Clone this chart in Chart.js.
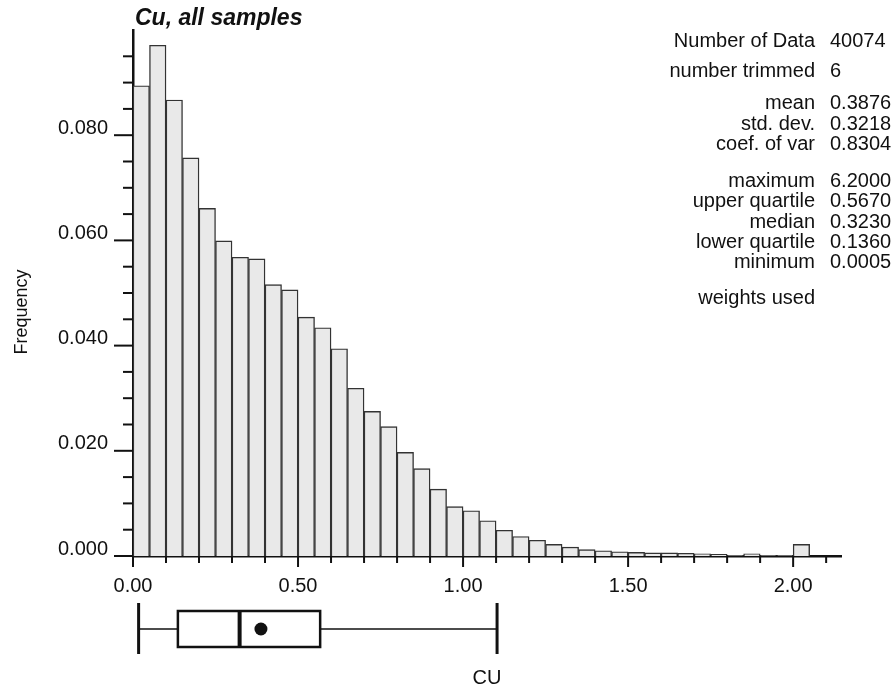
<!DOCTYPE html>
<html>
<head>
<meta charset="utf-8">
<title>Cu, all samples</title>
<script src="https://cdn.jsdelivr.net/npm/chart.js@4.4.1/dist/chart.umd.min.js"></script>
<style>
  html, body { margin: 0; padding: 0; background: #fff; }
  canvas { display: block; }
</style>
</head>
<body>
<canvas id="histo" width="896" height="692"></canvas>
<script>
// Cu grade classes are 0.05 wide and start at 0
const binWidth = 0.05;
const cuFrequency = [
  0.0894, 0.0971, 0.0867, 0.0757, 0.0661, 0.0599, 0.0568, 0.0565, 0.0516, 0.0506,
  0.0454, 0.0434, 0.0394, 0.0319, 0.0275, 0.0246, 0.0197, 0.0166, 0.0127, 0.0094,
  0.0086, 0.0067, 0.0049, 0.0037, 0.0030, 0.0022, 0.0017, 0.0012, 0.0010, 0.0008,
  0.0007, 0.0006, 0.0006, 0.0005, 0.0004, 0.0003, 0.0001, 0.0004, 0.0001, 0.0001,
  0.0022, 0.0000
];

// summary statistics (also used for the box plot under the axis)
const nData = 40074;
const nTrimmed = 6;
const mean = 0.3876;
const stdDev = 0.3218;
const coefVar = 0.8304;
const maximum = 6.2;
const upperQuartile = 0.567;
const median = 0.323;
const lowerQuartile = 0.136;
const minimum = 0.0005;
const whiskerLow = 0.017;
const whiskerHigh = 1.103;

const statLabels = ['Number of Data', 'number trimmed', 'mean', 'std. dev.', 'coef. of var',
  'maximum', 'upper quartile', 'median', 'lower quartile', 'minimum', 'weights used'];
const statValues = [String(nData), String(nTrimmed), mean.toFixed(4), stdDev.toFixed(4),
  coefVar.toFixed(4), maximum.toFixed(4), upperQuartile.toFixed(4), median.toFixed(4),
  lowerQuartile.toFixed(4), minimum.toFixed(4), ''];
// baselines of the statistics lines
const statRows = [47, 77, 109, 130, 150, 187, 207, 228, 248, 268, 304];

const FONT = '"Liberation Sans", Arial, Helvetica, sans-serif';
const INK = '#111';

const isMajorX = v => Math.round(v * 100) % 50 === 0;
const isMajorY = v => Math.round(v * 1000) % 20 === 0;

function line(ctx, x1, y1, x2, y2) {
  ctx.beginPath();
  ctx.moveTo(x1, y1);
  ctx.lineTo(x2, y2);
  ctx.stroke();
}

const decorations = {
  id: 'decorations',
  afterDraw(chart) {
    const { ctx, chartArea: area, scales: { x, y } } = chart;
    ctx.save();
    ctx.strokeStyle = INK;
    ctx.fillStyle = INK;

    // tick marks: long at labelled values, short in between
    ctx.lineWidth = 2;
    x.ticks.forEach(t => {
      const px = x.getPixelForValue(t.value);
      line(ctx, px, area.bottom, px, area.bottom + (isMajorX(t.value) ? 11 : 7));
    });
    y.ticks.forEach(t => {
      if (t.value > 0.0999) return;
      const py = y.getPixelForValue(t.value);
      line(ctx, area.left - (isMajorY(t.value) ? 19 : 10), py, area.left, py);
    });

    // box plot
    const boxTop = 611, boxBottom = 647, mid = (boxTop + boxBottom) / 2;
    const xLo = x.getPixelForValue(whiskerLow);
    const xQ1 = x.getPixelForValue(lowerQuartile);
    const xMed = x.getPixelForValue(median);
    const xQ3 = x.getPixelForValue(upperQuartile);
    const xHi = x.getPixelForValue(whiskerHigh);
    ctx.lineWidth = 1.5;
    line(ctx, xLo, mid, xQ1, mid);
    line(ctx, xQ3, mid, xHi, mid);
    ctx.lineWidth = 3;
    line(ctx, xLo, 603, xLo, 654);
    line(ctx, xHi, 603, xHi, 654);
    ctx.lineWidth = 2.5;
    ctx.strokeRect(xQ1, boxTop, xQ3 - xQ1, boxBottom - boxTop);
    ctx.lineWidth = 4;
    line(ctx, xMed, boxTop, xMed, boxBottom);
    ctx.beginPath();
    ctx.arc(x.getPixelForValue(mean), mid, 6.5, 0, Math.PI * 2);
    ctx.fill();

    // title
    ctx.font = 'italic bold 23px ' + FONT;
    ctx.textAlign = 'left';
    ctx.textBaseline = 'alphabetic';
    ctx.fillText('Cu, all samples', area.left + 2, 25);

    // axis titles
    ctx.font = '20px ' + FONT;
    ctx.textAlign = 'center';
    ctx.textBaseline = 'middle';
    ctx.fillText('CU', (area.left + area.right) / 2, 678);
    ctx.save();
    ctx.translate(22, 312);
    ctx.rotate(-Math.PI / 2);
    ctx.font = '18px ' + FONT;
    ctx.fillText('Frequency', 0, 0);
    ctx.restore();

    // statistics block
    ctx.font = '20px ' + FONT;
    ctx.textBaseline = 'alphabetic';
    statLabels.forEach((label, i) => {
      ctx.textAlign = 'right';
      ctx.fillText(label, 815, statRows[i]);
      ctx.textAlign = 'left';
      ctx.fillText(statValues[i], 830, statRows[i]);
    });
    ctx.restore();
  }
};

Chart.defaults.font.family = FONT;
Chart.defaults.font.size = 20;
Chart.defaults.color = INK;

new Chart(document.getElementById('histo'), {
  type: 'bar',
  data: {
    datasets: [{
      data: cuFrequency.map((f, i) => ({ x: (i + 0.5) * binWidth, y: f })),
      backgroundColor: '#e9e9e9',
      borderColor: '#333',
      borderWidth: 1.4,
      barPercentage: 1,
      categoryPercentage: 1
    }]
  },
  options: {
    responsive: false,
    animation: false,
    devicePixelRatio: 1,
    layout: { padding: { top: 30, right: 55, left: 0, bottom: 0 } },
    plugins: {
      legend: { display: false },
      tooltip: { enabled: false }
    },
    scales: {
      x: {
        type: 'linear',
        min: 0,
        max: 2.145,
        offset: false,
        grid: { display: false, drawTicks: false },
        border: { display: true, color: INK, width: 2.5 },
        ticks: {
          stepSize: 0.1,
          autoSkip: false,
          includeBounds: false,
          maxRotation: 0,
          padding: 18,
          callback: v => isMajorX(v) ? v.toFixed(2) : ''
        },
        afterFit: s => { s.height = 136; }
      },
      y: {
        min: 0,
        max: 0.1,
        grid: { display: false, drawTicks: false },
        border: { display: true, color: INK, width: 2.5 },
        ticks: {
          stepSize: 0.005,
          autoSkip: false,
          padding: 25,
          labelOffset: -7,
          callback: v => (isMajorY(v) && v < 0.0999) ? v.toFixed(3) : ''
        },
        afterFit: s => {
          s.width = 133;
          // the plot top is set by the layout padding alone
          s.paddingTop = 0;
          s.paddingBottom = 0;
        }
      }
    }
  },
  plugins: [decorations]
});
</script>
</body>
</html>
